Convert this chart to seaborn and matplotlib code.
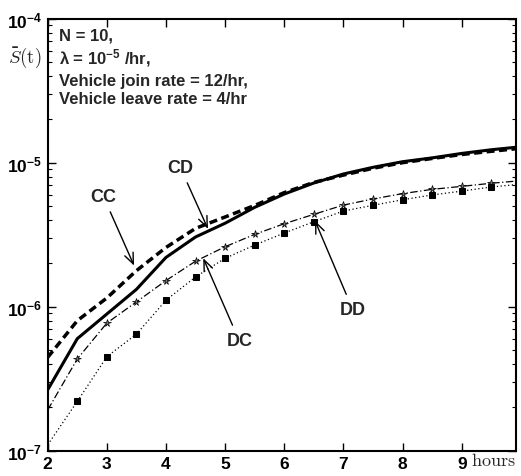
import numpy as np
import pandas as pd
import matplotlib
matplotlib.use("Agg")
import matplotlib.pyplot as plt
import seaborn as sns
from matplotlib.ticker import FixedLocator, FixedFormatter, LogLocator, NullFormatter

# ---------------- data ----------------
hours = [2, 2.5, 3, 3.5, 4, 4.5, 5, 5.5, 6, 6.5, 7, 7.5, 8, 8.5, 9, 9.5, 10]
cc = [4.45e-7, 8.0e-7, 1.15e-6, 1.78e-6, 2.58e-6, 3.5e-6, 4.2e-6, 5.05e-6, 6.2e-6,
      7.3e-6, 8.2e-6, 9.15e-6, 1.0e-5, 1.07e-5, 1.14e-5, 1.2e-5, 1.26e-5]
cd = [2.65e-7, 6.0e-7, 8.9e-7, 1.32e-6, 2.2e-6, 3.05e-6, 3.8e-6, 4.9e-6, 6.06e-6,
      7.23e-6, 8.35e-6, 9.29e-6, 1.016e-5, 1.08e-5, 1.16e-5, 1.23e-5, 1.29e-5]
dc = [1.92e-7, 4.34e-7, 7.7e-7, 1.08e-6, 1.52e-6, 2.07e-6, 2.61e-6, 3.18e-6, 3.77e-6,
      4.38e-6, 5.08e-6, 5.6e-6, 6.1e-6, 6.53e-6, 6.85e-6, 7.2e-6, 7.5e-6]
dd = [1.1e-7, 2.2e-7, 4.5e-7, 6.45e-7, 1.11e-6, 1.61e-6, 2.17e-6, 2.68e-6, 3.25e-6,
      3.89e-6, 4.62e-6, 5.06e-6, 5.53e-6, 5.97e-6, 6.35e-6, 6.78e-6, 7.1e-6]

x_ticks = [2, 3, 4, 5, 6, 7, 8, 9]
y_ticks = [1e-7, 1e-6, 1e-5, 1e-4]
y_tick_labels = [r"$10^{-7}$", r"$10^{-6}$", r"$10^{-5}$", r"$10^{-4}$"]

info_lines = ["N = 10,", "λ = 10$^{-5}$ /hr,", "Vehicle join rate = 12/hr,",
              "Vehicle leave rate = 4/hr"]

# label text, arrow target (x, y), text position (x, y)
annotations = [
    ("CC", (3.46, 1.93e-6), (2.94, 5.85e-6)),
    ("CD", (4.71, 3.47e-6), (4.24, 9.3e-6)),
    ("DC", (4.63, 2.17e-6), (5.24, 5.8e-7)),
    ("DD", (6.52, 3.95e-6), (7.16, 9.5e-7)),
]

# ---------------- style ----------------
sns.set_style("ticks")
plt.rcParams["font.family"] = ["Liberation Sans", "DejaVu Sans"]
plt.rcParams["font.weight"] = "bold"
plt.rcParams["mathtext.default"] = "regular"

fig = plt.figure(figsize=(5.21, 4.77), dpi=100)
ax = fig.add_axes([0.0916, 0.053, 0.899, 0.9057])

df = pd.DataFrame({"hours": hours, "CC": cc, "CD": cd, "DC": dc, "DD": dd})

sns.lineplot(data=df, x="hours", y="CC", ax=ax, estimator=None, color="black",
             lw=2.5, linestyle=(0, (2.3, 1.3)))
sns.lineplot(data=df, x="hours", y="CD", ax=ax, estimator=None, color="black",
             lw=2.2, linestyle="-")
sns.lineplot(data=df, x="hours", y="DC", ax=ax, estimator=None, color="black",
             lw=0.9, linestyle=(0, (6, 2, 1, 2)), marker="*", markersize=5.5,
             markerfacecolor="#777777", markeredgecolor="black", markeredgewidth=0.5,
             markevery=slice(1, None))
sns.lineplot(data=df, x="hours", y="DD", ax=ax, estimator=None, color="black",
             lw=0.9, linestyle=(0, (1, 2)), marker="s", markersize=4.5,
             markerfacecolor="black", markeredgecolor="black",
             markevery=slice(1, None))

ax.set_yscale("log")
ax.set_xlim(2, 9.92)
ax.set_ylim(1e-7, 1e-4)
ax.set_xlabel("")
ax.set_ylabel("")

ax.xaxis.set_major_locator(FixedLocator(x_ticks))
ax.set_xticklabels([str(t) for t in x_ticks], fontsize=12.5, fontweight="bold")
ax.yaxis.set_major_locator(FixedLocator(y_ticks))
ax.yaxis.set_major_formatter(FixedFormatter(y_tick_labels))
ax.yaxis.set_minor_locator(LogLocator(base=10, subs=np.arange(2, 10), numticks=20))
ax.yaxis.set_minor_formatter(NullFormatter())
for lab in ax.get_yticklabels():
    lab.set_fontsize(12.5)
    lab.set_fontweight("bold")

ax.tick_params(which="both", direction="in", top=True, right=True, colors="black")
ax.tick_params(which="major", length=6, width=1, pad=4)
ax.tick_params(which="minor", length=3, width=0.8)
for s in ax.spines.values():
    s.set_linewidth(1.5)
    s.set_color("black")

# axis labels
fig.text(25 / 521, 1 - 58 / 477, r"$\bar{\mathit{S}}\mathrm{(t)}$", math_fontfamily="cm",
         fontsize=13.5, ha="center", va="center")
fig.text(493 / 521, 1 - 462 / 477, r"$\mathrm{hours}$", math_fontfamily="cm",
         fontsize=13, ha="center", va="center")

# info box text
baselines = [40.7, 64.3, 86.0, 104.3]
for line, b in zip(info_lines, baselines):
    fig.text(59 / 521, 1 - b / 477, line, fontsize=12, fontweight="bold",
             ha="left", va="baseline")

for label, xy, xytext in annotations:
    ax.annotate(label, xy=xy, xytext=xytext, fontsize=13, fontweight="bold",
                ha="center", va="center",
                arrowprops=dict(arrowstyle="->,head_length=0.6,head_width=0.25",
                                lw=1, color="black", shrinkA=3, shrinkB=0))

fig.savefig("out.png", dpi=100)
